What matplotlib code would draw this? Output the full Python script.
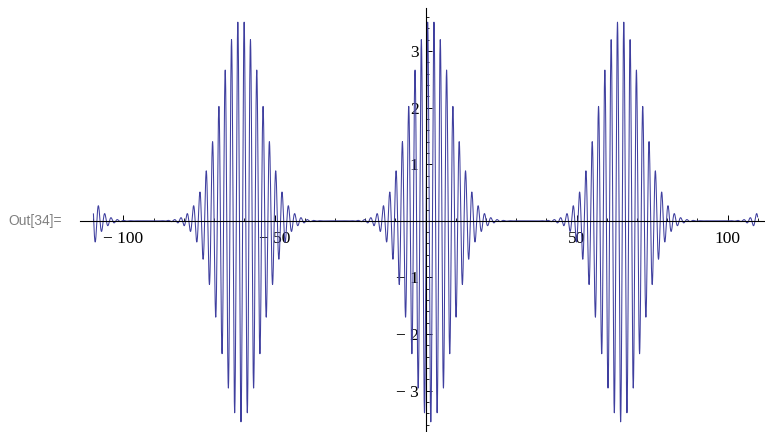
import numpy as np
import matplotlib
matplotlib.use("Agg")
import matplotlib.pyplot as plt
from matplotlib.ticker import FixedLocator

# wave packets (centre, peak height, gaussian width)
packet_centers = [-124.0, -61.1, 1.75, 64.6, 127.4]
packet_amplitudes = [3.55, 3.55, 3.55, 3.55, 3.55]
packet_widths = [6.9, 6.9, 6.9, 6.9, 6.9]
carrier_freq = 3.0
x_range = [-35 * np.pi, 35 * np.pi]

x_major = [-100, -50, 50, 100]
x_labels = ["\u2212 100", "\u2212 50", "50", "100"]
y_major = [-3, -2, -1, 1, 2, 3]
y_labels = ["\u2212 3", "\u2212 2", "\u2212 1", "1", "2", "3"]

x = np.linspace(x_range[0], x_range[1], 30000)
y = np.zeros_like(x)
for c, a, w in zip(packet_centers, packet_amplitudes, packet_widths):
    y -= a * np.exp(-(x - c) ** 2 / (2 * w ** 2)) * np.cos(carrier_freq * (x - c))

fig = plt.figure(figsize=(7.65, 4.32), dpi=100)
ax = fig.add_axes([80 / 765, 0, 685 / 765, 424 / 432])
ax.plot(x, y, color="#3f3f9f", lw=0.75)
ax.set_xlim(-114.4, 112.4)
ax.set_ylim(-3.73, 3.76)

for s in ["top", "right"]:
    ax.spines[s].set_visible(False)
ax.spines["left"].set_position(("data", 0))
ax.spines["bottom"].set_position(("data", 0))
ax.spines["left"].set_linewidth(0.8)
ax.spines["bottom"].set_linewidth(0.8)

ax.set_xticks(x_major)
ax.set_xticklabels(x_labels)
ax.xaxis.set_minor_locator(FixedLocator(np.arange(-110, 111, 10)))
ax.set_yticks(y_major)
ax.set_yticklabels(y_labels)
ax.yaxis.set_minor_locator(FixedLocator(np.round(np.arange(-3.6, 3.61, 0.2), 1)))

ax.tick_params(which="major", direction="in", length=4.2, width=0.7, pad=5)
ax.tick_params(axis="x", which="major", pad=7)
ax.tick_params(which="minor", direction="in", length=2.4, width=0.6)
for lab in ax.get_xticklabels() + ax.get_yticklabels():
    lab.set_family("Liberation Serif")
    lab.set_fontsize(12.5)

fig.text(8 / 765, 1 - 221 / 432, "Out[34]=", va="center", ha="left",
         color="#808080", fontsize=10, family="Liberation Sans")

fig.savefig("out.png", dpi=100)
